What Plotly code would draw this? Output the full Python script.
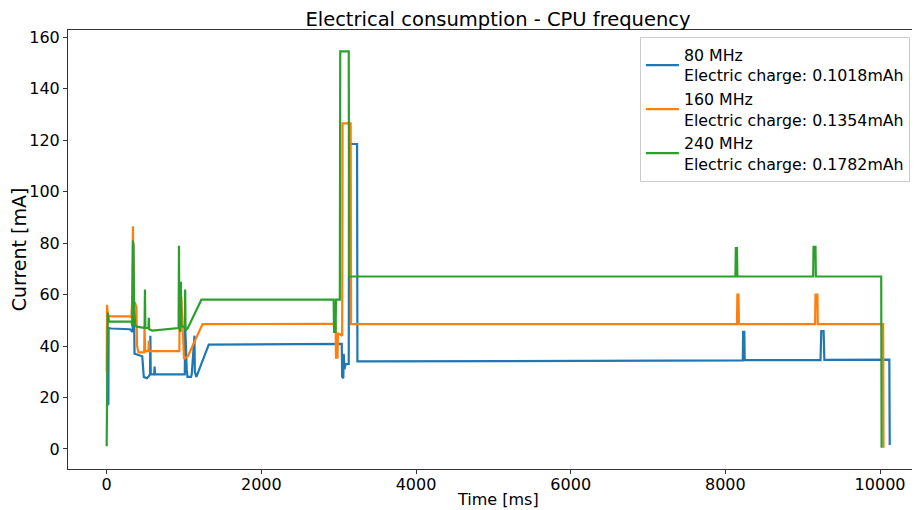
import plotly.graph_objects as go

# ---- data ----
t_80 = [10, 15, 22, 25, 60, 300, 335, 345, 350, 360, 460, 470, 480, 520, 540, 560, 565, 570, 575, 615, 620, 625,
        1000, 1010, 1015, 1025, 1035, 1045, 1090, 1100, 1135, 1140, 1160, 1320, 2000, 3040, 3045, 3060, 3065,
        3075, 3090, 3130, 3135, 3238, 3242, 5000, 8000, 8225, 8230, 8245, 8250, 9230, 9240, 9270, 9280, 10120, 10125]
i_80 = [30, 17, 17.5, 47, 46.8, 46.5, 45.5, 80, 45, 37, 36, 29, 28, 27.5, 28, 29, 44, 29, 29, 29, 32, 29,
        29, 29, 48, 36, 31, 28, 28, 29, 44, 30, 28, 40.5, 40.7, 40.8, 28, 27.5, 37,
        31, 33, 33, 118.5, 118.5, 34, 34.2, 34.4, 34.4, 45.5, 45.5, 34.5, 34.5, 45.8, 45.8, 34.6, 34.7, 1.5]

t_160 = [0, 5, 15, 40, 300, 320, 330, 340, 350, 365, 385, 393, 410, 430, 485, 490, 497, 540, 545, 550,
         940, 945, 955, 965, 1000, 1050, 1240, 2960, 2965, 2985, 2990, 3045, 3050, 3155, 3160,
         8150, 8155, 8170, 8175, 9160, 9165, 9190, 9195, 10040, 10045]
i_160 = [30, 56, 52, 51.5, 51.5, 51, 58, 86.5, 55, 57, 55, 40, 37.5, 37.5, 37.5, 48, 38, 38, 42, 38,
         38, 64, 50, 59, 35, 36, 48.5, 48.6, 35.5, 35.5, 45, 44, 126.5, 126.5, 48.5,
         48.5, 60, 60, 48.5, 48.5, 60, 60, 48.5, 48.5, 0.5]

t_240 = [0, 8, 15, 30, 320, 330, 340, 345, 355, 370, 390, 490, 495, 500, 540, 545, 550, 590,
         930, 935, 940, 955, 960, 965, 1010, 1015, 1020, 1050, 1225, 2935, 2940, 2960, 2965, 3015, 3020,
         3130, 3135, 8130, 8135, 8150, 8155, 9135, 9140, 9165, 9170, 10015, 10020]
i_240 = [1, 50, 53, 49.5, 49.5, 48, 81, 78, 55, 48, 47.5, 47, 62, 47, 47, 51, 46.5, 46,
         47, 79, 47, 45.5, 65, 48, 47, 62, 46, 47, 58, 58, 45.5, 45.5, 58, 58, 154.5,
         154.5, 67, 67, 78, 78, 67, 67, 78.5, 78.5, 67, 67, 0.5]

names = ["80 MHz<br>Electric charge: 0.1018mAh",
         "160 MHz<br>Electric charge: 0.1354mAh",
         "240 MHz<br>Electric charge: 0.1782mAh"]
colors = ["#1f77b4", "#ff7f0e", "#2ca02c"]
x_ticks = [0, 2000, 4000, 6000, 8000, 10000]
y_ticks = [0, 20, 40, 60, 80, 100, 120, 140, 160]

FONT = "DejaVu Sans"

fig = go.Figure()
for t, i, n, c in zip([t_80, t_160, t_240], [i_80, i_160, i_240], names, colors):
    fig.add_trace(go.Scatter(x=t, y=i, mode="lines", name=n,
                             line=dict(color=c, width=2.2)))

fig.update_layout(
    width=920, height=510,
    margin=dict(l=60, r=0, t=22, b=49, autoexpand=False),
    paper_bgcolor="white", plot_bgcolor="white",
    font=dict(family=FONT, size=16, color="black"),
    title=dict(text="Electrical consumption - CPU frequency", xref="paper", x=0.5,
               xanchor="center", y=0.978, yanchor="middle",
               font=dict(family=FONT, size=19.5, color="black")),
    legend=dict(x=0.665, y=0.984, xanchor="left", yanchor="top",
                bgcolor="rgba(255,255,255,0.8)", bordercolor="#cccccc", borderwidth=1,
                font=dict(family=FONT, size=15.8, color="black"),
                tracegroupgap=0, itemwidth=33),
    showlegend=True,
    annotations=[dict(text="Time [ms]", xref="paper", yref="paper", x=0.5, y=-0.0706,
                      xanchor="center", yanchor="middle", showarrow=False,
                      font=dict(family=FONT, size=16, color="black"))],
)
fig.update_xaxes(range=[-500, 10620], tickvals=x_ticks, ticktext=[str(v) for v in x_ticks],
                 showgrid=False, zeroline=False, showline=True, linecolor="#333333", linewidth=1,
                 mirror=True, ticks="outside", ticklen=4, tickcolor="#333333", automargin=False,
                 ticklabelstandoff=-3, tickfont=dict(size=16))
fig.update_yaxes(range=[-7.8, 162.8], tickvals=y_ticks, ticktext=[str(v) for v in y_ticks],
                 showgrid=False, zeroline=False, showline=True, linecolor="#333333", linewidth=1,
                 ticks="outside", ticklen=4, tickcolor="#333333", automargin=False,
                 title=dict(text="Current [mA]", standoff=6), tickfont=dict(size=16))

fig.write_html("out.html")
